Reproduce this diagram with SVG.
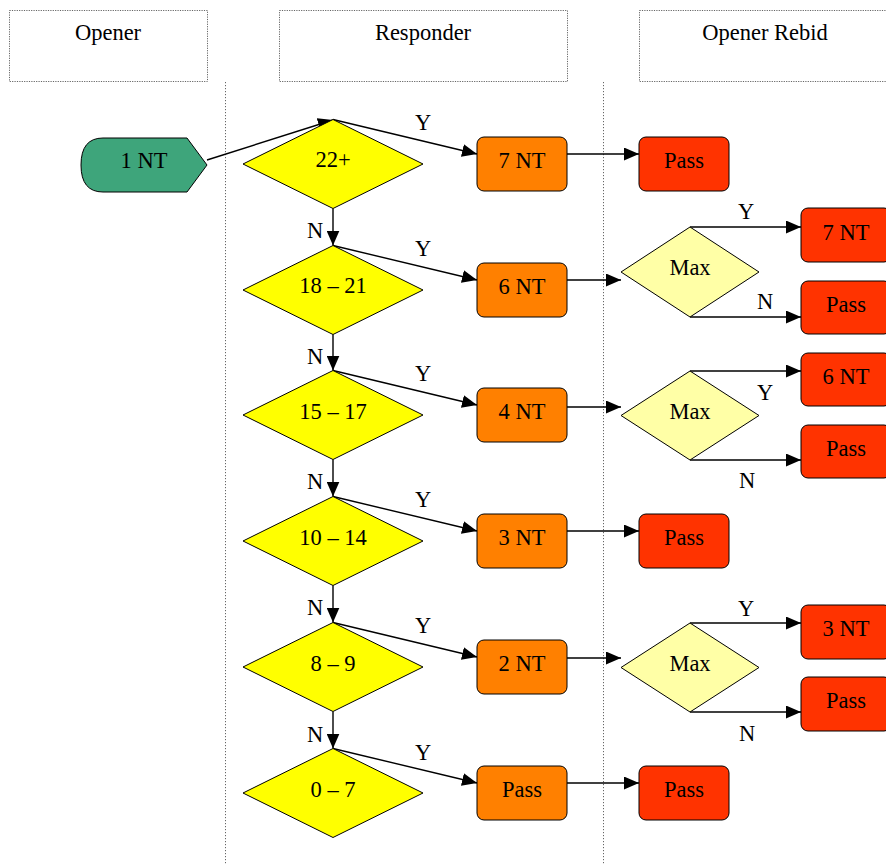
<svg xmlns="http://www.w3.org/2000/svg" width="886" height="865" viewBox="0 0 886 865" font-family="'Liberation Serif', 'Times New Roman', 'DejaVu Serif', serif">
<defs>
<marker id="ah" markerUnits="userSpaceOnUse" markerWidth="15" markerHeight="13" refX="15" refY="6.5" orient="auto">
<path d="M0,0 L15,6.5 L0,13 Z" fill="#000"/>
</marker>
</defs>
<style>
text{font-family:'Liberation Serif','Times New Roman','DejaVu Serif',serif;font-size:22.5px;fill:#000;text-anchor:middle}
.hdr{fill:#fff;stroke:#666;stroke-width:1;stroke-dasharray:1.2,1.2}
.div{stroke:#666;stroke-width:1;stroke-dasharray:1.2,1.8;fill:none}
.dia{fill:#ffff00;stroke:#000;stroke-width:1}
.max{fill:#ffffa6;stroke:#000;stroke-width:1}
.org{fill:#ff8000;stroke:#000;stroke-width:1}
.red{fill:#ff3300;stroke:#000;stroke-width:1}
.c{stroke:#000;stroke-width:1.4;fill:none}
.a{marker-end:url(#ah)}
</style>
<rect width="886" height="865" fill="#fff"/>
<g id="lanes">
<rect class="hdr" x="9.5" y="10.5" width="198" height="71"/>
<text x="108" y="40">Opener</text>
<rect class="hdr" x="279.5" y="10.5" width="288" height="71"/>
<text x="423" y="40">Responder</text>
<rect class="hdr" x="639.5" y="10.5" width="252" height="71"/>
<text x="765" y="40">Opener Rebid</text>
<line class="div" x1="225.5" y1="82" x2="225.5" y2="865"/>
<line class="div" x1="603.5" y1="82" x2="603.5" y2="865"/>
</g>
<g id="connectors">
<line class="c a" x1="207" y1="160" x2="333" y2="120"/>
<line class="c a" x1="333" y1="119.5" x2="477" y2="154"/>
<line class="c a" x1="333" y1="245.5" x2="477" y2="280"/>
<line class="c a" x1="333" y1="370.5" x2="477" y2="405"/>
<line class="c a" x1="333" y1="496.5" x2="477" y2="531"/>
<line class="c a" x1="333" y1="622.5" x2="477" y2="657"/>
<line class="c a" x1="333" y1="748.5" x2="477" y2="783"/>
<line class="c a" x1="333" y1="208.5" x2="333" y2="245.5"/>
<line class="c a" x1="333" y1="334.5" x2="333" y2="370.5"/>
<line class="c a" x1="333" y1="459.5" x2="333" y2="496.5"/>
<line class="c a" x1="333" y1="585.5" x2="333" y2="622.5"/>
<line class="c a" x1="333" y1="711.5" x2="333" y2="748.5"/>
<line class="c a" x1="567" y1="154" x2="639" y2="154"/>
<line class="c a" x1="567" y1="280" x2="621" y2="280"/>
<line class="c a" x1="567" y1="407" x2="621" y2="407"/>
<line class="c a" x1="567" y1="531" x2="639" y2="531"/>
<line class="c a" x1="567" y1="658" x2="621" y2="658"/>
<line class="c a" x1="567" y1="783" x2="639" y2="783"/>
<line class="c a" x1="690" y1="227" x2="801" y2="227"/>
<line class="c a" x1="690" y1="317" x2="801" y2="317"/>
<line class="c a" x1="690" y1="371" x2="801" y2="371"/>
<line class="c a" x1="690" y1="460" x2="801" y2="460"/>
<line class="c a" x1="690" y1="623" x2="801" y2="623"/>
<line class="c a" x1="690" y1="712" x2="801" y2="712"/>
<text x="423" y="130">Y</text>
<text x="423" y="256">Y</text>
<text x="423" y="381">Y</text>
<text x="423" y="507">Y</text>
<text x="423" y="633">Y</text>
<text x="423" y="760">Y</text>
<text x="315" y="238">N</text>
<text x="315" y="364">N</text>
<text x="315" y="489">N</text>
<text x="315" y="615">N</text>
<text x="315" y="742">N</text>
<text x="746" y="219">Y</text>
<text x="765" y="309">N</text>
<text x="765" y="400">Y</text>
<text x="747" y="488">N</text>
<text x="746" y="616">Y</text>
<text x="747" y="741">N</text>
</g>
<g id="n_1nt">
<path d="M187,138 L207,165 L187,192 L103,192 Q81,192 81,165 Q81,138 103,138 Z" fill="#3ea57b" stroke="#000" stroke-width="1"/>
<text x="144" y="168">1 NT</text>
</g>
<g id="d_22"><polygon class="dia" points="333,119.5 423,164 333,208.5 243,164"/><text x="333" y="167">22+</text></g>
<g id="d_18"><polygon class="dia" points="333,245.5 423,290 333,334.5 243,290"/><text x="333" y="293">18 – 21</text></g>
<g id="d_15"><polygon class="dia" points="333,370.5 423,415 333,459.5 243,415"/><text x="333" y="419">15 – 17</text></g>
<g id="d_10"><polygon class="dia" points="333,496.5 423,541 333,585.5 243,541"/><text x="333" y="545">10 – 14</text></g>
<g id="d_8"><polygon class="dia" points="333,622.5 423,667 333,711.5 243,667"/><text x="333" y="671">8 – 9</text></g>
<g id="d_0"><polygon class="dia" points="333,748.5 423,793 333,837.5 243,793"/><text x="333" y="797">0 – 7</text></g>
<g id="r_7nt"><rect class="org" x="477" y="137" width="90" height="54" rx="7"/><text x="522" y="168">7 NT</text></g>
<g id="r_6nt"><rect class="org" x="477" y="263" width="90" height="54" rx="7"/><text x="522" y="294">6 NT</text></g>
<g id="r_4nt"><rect class="org" x="477" y="388" width="90" height="54" rx="7"/><text x="522" y="419">4 NT</text></g>
<g id="r_3nt"><rect class="org" x="477" y="514" width="90" height="54" rx="7"/><text x="522" y="545">3 NT</text></g>
<g id="r_2nt"><rect class="org" x="477" y="640" width="90" height="54" rx="7"/><text x="522" y="671">2 NT</text></g>
<g id="r_pass"><rect class="org" x="477" y="766" width="90" height="54" rx="7"/><text x="522" y="797">Pass</text></g>
<g id="o_pass1"><rect class="red" x="639" y="137" width="90" height="54" rx="7"/><text x="684" y="168">Pass</text></g>
<g id="o_max1"><polygon class="max" points="690,227 759,272 690,317 621,272"/><text x="690" y="275">Max</text></g>
<g id="o_max2"><polygon class="max" points="690,371 759,415.5 690,460 621,415.5"/><text x="690" y="419">Max</text></g>
<g id="o_pass4"><rect class="red" x="639" y="514" width="90" height="54" rx="7"/><text x="684" y="545">Pass</text></g>
<g id="o_max5"><polygon class="max" points="690,623 759,667.5 690,712 621,667.5"/><text x="690" y="671">Max</text></g>
<g id="o_pass6"><rect class="red" x="639" y="766" width="90" height="54" rx="7"/><text x="684" y="797">Pass</text></g>
<g id="o_7nt"><rect class="red" x="801" y="208" width="90" height="54" rx="7"/><text x="846" y="240">7 NT</text></g>
<g id="o_pass2"><rect class="red" x="801" y="281" width="90" height="53" rx="7"/><text x="846" y="312">Pass</text></g>
<g id="o_6nt"><rect class="red" x="801" y="353" width="90" height="53" rx="7"/><text x="846" y="384">6 NT</text></g>
<g id="o_pass3"><rect class="red" x="801" y="425" width="90" height="53" rx="7"/><text x="846" y="456">Pass</text></g>
<g id="o_3nt"><rect class="red" x="801" y="605" width="90" height="54" rx="7"/><text x="846" y="636">3 NT</text></g>
<g id="o_pass5"><rect class="red" x="801" y="677" width="90" height="54" rx="7"/><text x="846" y="708">Pass</text></g>
</svg>
